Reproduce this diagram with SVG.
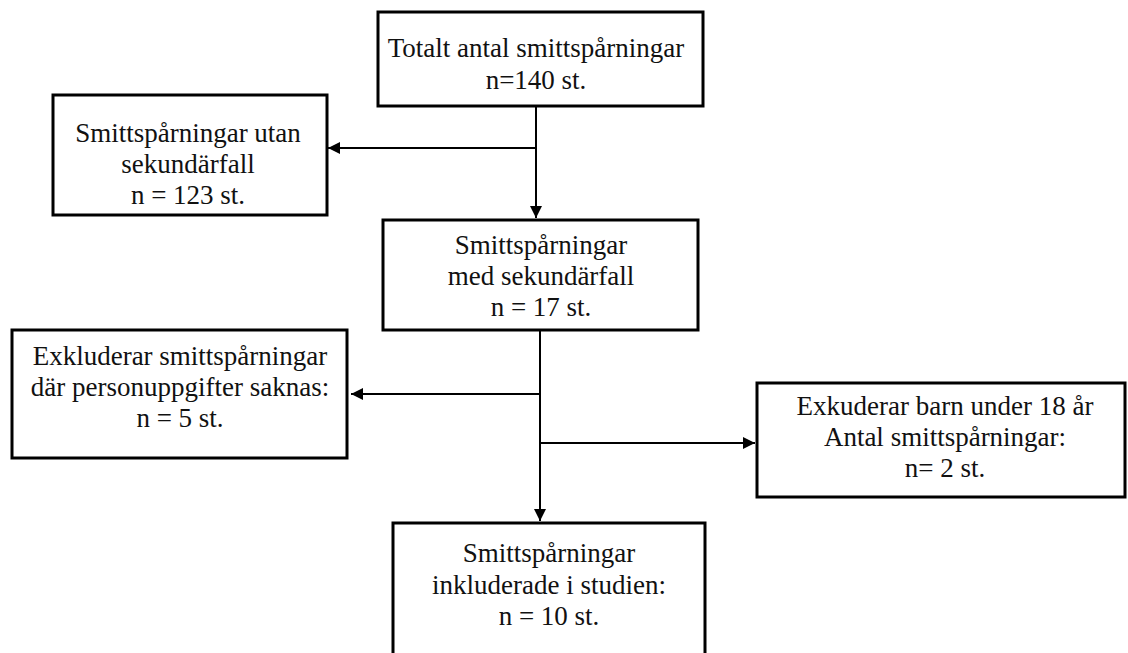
<svg xmlns="http://www.w3.org/2000/svg" width="1128" height="653" viewBox="0 0 1128 653">
<style>
.box{fill:#fff;stroke:#000;stroke-width:3}
.t{font-family:"Liberation Serif","Times New Roman",serif;font-size:27px;fill:#111;text-anchor:middle}
.c{stroke:#000;stroke-width:2;fill:none}
</style>
<defs>
<marker id="ah" viewBox="0 0 10 10" refX="10" refY="5" markerWidth="13" markerHeight="12" markerUnits="userSpaceOnUse" orient="auto">
<path d="M0,0 L10,5 L0,10 Z" fill="#000"/>
</marker>
</defs>
<rect width="1128" height="653" fill="#fff"/>
<g id="connectors">
<line class="c" x1="536" y1="107" x2="536" y2="218" marker-end="url(#ah)"/>
<line class="c" x1="536" y1="148" x2="328" y2="148" marker-end="url(#ah)"/>
<line class="c" x1="540" y1="330" x2="540" y2="521" marker-end="url(#ah)"/>
<line class="c" x1="540" y1="394" x2="351" y2="394" marker-end="url(#ah)"/>
<line class="c" x1="540" y1="443" x2="755" y2="443" marker-end="url(#ah)"/>
</g>
<g id="n1">
<rect class="box" x="378" y="12" width="325" height="94"/>
<text class="t" x="536" y="57">Totalt antal smittspårningar</text>
<text class="t" x="536" y="89">n=140 st.</text>
</g>
<g id="n2">
<rect class="box" x="53" y="95" width="274" height="120"/>
<text class="t" x="188" y="142">Smittspårningar utan</text>
<text class="t" x="188" y="173">sekundärfall</text>
<text class="t" x="188" y="204">n = 123  st.</text>
</g>
<g id="n3">
<rect class="box" x="383" y="220" width="315" height="110"/>
<text class="t" x="541" y="254">Smittspårningar</text>
<text class="t" x="541" y="285">med sekundärfall</text>
<text class="t" x="541" y="316">n = 17 st.</text>
</g>
<g id="n4">
<rect class="box" x="12" y="330" width="335" height="128"/>
<text class="t" x="180" y="365">Exkluderar smittspårningar</text>
<text class="t" x="180" y="396">där personuppgifter saknas:</text>
<text class="t" x="180" y="427">n = 5 st.</text>
</g>
<g id="n5">
<rect class="box" x="757" y="383" width="368" height="114"/>
<text class="t" x="945" y="415">Exkuderar barn under 18  år</text>
<text class="t" x="945" y="446">Antal  smittspårningar:</text>
<text class="t" x="945" y="477">n= 2 st.</text>
</g>
<g id="n6">
<rect class="box" x="393" y="523" width="312" height="135"/>
<text class="t" x="549" y="562">Smittspårningar</text>
<text class="t" x="549" y="594">inkluderade i studien:</text>
<text class="t" x="549" y="625">n = 10 st.</text>
</g>
</svg>
